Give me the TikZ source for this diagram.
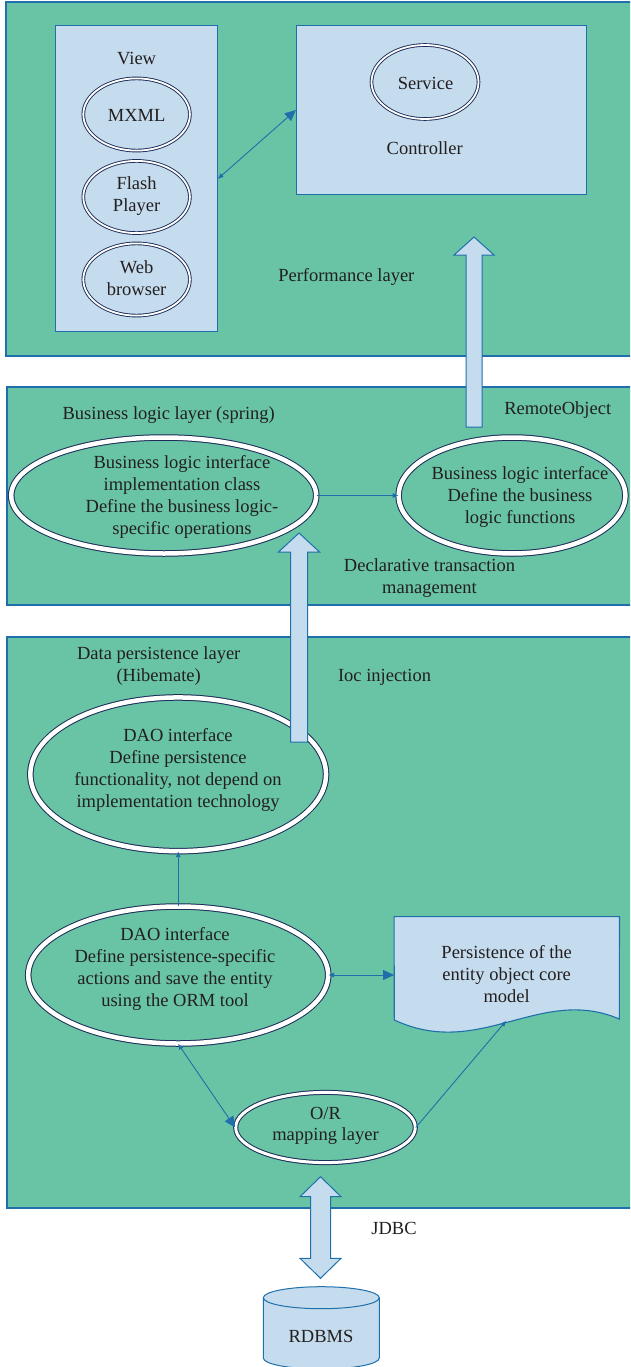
\documentclass[tikz,border=0pt]{standalone}
\usepackage{fontspec}
\setmainfont{Liberation Serif}
\usetikzlibrary{arrows.meta,shapes.geometric}
\definecolor{layer}{HTML}{68C4A4}
\definecolor{paleblue}{HTML}{C5DCEE}
\definecolor{edge}{HTML}{1F6FAA}
\definecolor{navy}{HTML}{1C2B57}
\definecolor{ink}{HTML}{231F20}
\tikzset{
  every node/.style={font=\fontsize{18.5}{21.7}\selectfont, text=ink, inner sep=0pt},
  lbl/.style={align=center},
  layerbox/.style={draw=edge, line width=1.2pt, fill=layer},
  panel/.style={rectangle, draw=edge, line width=1.2pt, fill=paleblue},
  ovalthin/.style={ellipse, draw=navy, line width=0.9pt, double=white, double distance=1.8pt},
  ovalthick/.style={ellipse, draw=navy, line width=1pt, double=white, double distance=4.5pt},
  ovalmid/.style={ellipse, draw=navy, line width=1pt, double=white, double distance=3pt},
  conn/.style={draw=edge, line width=0.9pt},
  fat/.style={draw=edge, fill=paleblue, line width=1pt, line join=miter},
  bigtip/.tip={Triangle[length=11pt,width=10pt]},
  smalltip/.tip={Triangle[length=5.5pt,width=4.5pt]},
}
\begin{document}
\begin{tikzpicture}[x=1pt,y=-1pt]
\useasboundingbox (0,0) rectangle (630,1367);
\clip (0,0) rectangle (630,1367);

% ---------- layer backgrounds ----------
\draw[layerbox] (6,2) rectangle (645,356);
\draw[layerbox] (7,387) rectangle (645,605);
\draw[layerbox] (7,637) rectangle (645,1208);

% ---------- performance layer ----------
\node[panel, minimum width=161.6pt, minimum height=306pt] (view) at (136.6,178.7) {};
\node[panel, minimum width=290pt, minimum height=168.6pt] (ctrl) at (441.5,110) {};
\node (viewlbl) at (136.6,59) {View};
\node[ovalthin, minimum width=106.6pt, minimum height=72.2pt] (mxml) at (136.6,114.5) {};
\node (mxmllbl) at (136.6,115.7) {MXML};
\node[ovalthin, minimum width=106.6pt, minimum height=72.2pt] (flash) at (136.6,197) {};
\node[lbl] (flashlbl) at (136.6,196) {Flash\\Player};
\node[ovalthin, minimum width=106.6pt, minimum height=72.2pt] (web) at (136.6,279.5) {};
\node[lbl] (weblbl) at (136.6,278.5) {Web\\browser};
\node[ovalthin, minimum width=107pt, minimum height=74pt] (service) at (425,82) {};
\node (servicelbl) at (425.5,83) {Service};
\node (ctrllbl) at (424.7,148) {Controller};
\node (perflbl) at (346.3,277) {Performance layer};
\draw[conn, {smalltip}-{bigtip}] (view.east) -- (ctrl.west);

% ---------- business logic layer ----------
\node (buslbl) at (168.7,415) {Business logic layer (spring)};
\node (remotelbl) at (557.7,410) {RemoteObject};
\node[ovalthick, minimum width=305pt, minimum height=116pt] (bl1) at (163.7,495.5) {};
\node[lbl] (bl1lbl) at (182,497) {Business logic interface\\implementation class\\Define the business logic-\\specific operations};
\node[ovalthick, minimum width=226.7pt, minimum height=116pt] (bl2) at (512,495.5) {};
\node[lbl] (bl2lbl) at (520,497) {Business logic interface\\Define the business\\logic functions};
\node[lbl] (decllbl) at (429.5,578) {Declarative transaction\\management};
\draw[conn, -{smalltip}] (bl1.east) -- (bl2.west);

% ---------- data persistence layer ----------
\node[lbl] (datalbl) at (158.7,666) {Data persistence layer\\(Hibemate)};
\node (ioclbl) at (384.5,677) {Ioc injection};
\node[ovalthick, minimum width=295.7pt, minimum height=153.7pt] (dao1) at (178.2,774.3) {};
\node[lbl] (dao1lbl) at (178,770) {DAO interface\\Define persistence\\functionality, not depend on\\implementation technology};
\node[ovalthick, minimum width=300pt, minimum height=137pt] (dao2) at (178.2,975) {};
\node[lbl] (dao2lbl) at (175,969) {DAO interface\\Define persistence-specific\\actions and save the entity\\using the ORM tool};
\node[ovalmid, minimum width=179.6pt, minimum height=70.2pt] (orm) at (325.5,1127.5) {};
\node[lbl] (ormlbl) at (325.5,1126) {O/R\\mapping layer};

% document shape holding the core model
\node[minimum width=225pt, minimum height=103pt] (doc) at (506.8,968.3) {};
\draw[draw=edge, fill=paleblue, line width=1.1pt]
  (doc.north west) -- (doc.north east) -- (619.3,1019)
  .. controls (540,985) and (480,1060) .. (394.3,1020) -- cycle;
\node[lbl] (doclbl) at (506.7,974) {Persistence of the\\entity object core\\model};
\coordinate (docbot) at (506,1021);

\draw[conn, -{smalltip}] (dao2.north) -- (dao1.south);
\draw[conn, {smalltip}-{bigtip}] (dao2.east) -- (doc.west |- dao2.east);
\draw[conn, {smalltip}-{bigtip}] (dao2.south) -- (orm.west);
\draw[conn, -{smalltip}] (orm.east) -- (docbot);

% ---------- hollow block arrows ----------
\draw[fat] (466,427) -- (466,255) -- (454,255) -- (474,237) -- (494,255) -- (482,255) -- (482,427) -- cycle;
\draw[fat] (290.5,742) -- (290.5,552) -- (278.5,552) -- (299,533) -- (319.5,552) -- (307.5,552) -- (307.5,742) -- cycle;
\draw[fat] (310.5,1196.7) -- (300,1196.7) -- (320.5,1176.7) -- (341,1196.7) -- (330.5,1196.7)
  -- (330.5,1258.3) -- (341,1258.3) -- (320.5,1278.3) -- (300,1258.3) -- (310.5,1258.3) -- cycle;
\node (jdbclbl) at (394,1228.3) {JDBC};

% ---------- database ----------
\draw[draw=edge, fill=paleblue, line width=1pt]
  (263.3,1297.7) -- (263.3,1358)
  .. controls (263.3,1364.1) and (289.3,1369) .. (321.3,1369)
  .. controls (353.3,1369) and (379.3,1364.1) .. (379.3,1358)
  -- (379.3,1297.7)
  .. controls (379.3,1291.6) and (353.3,1286.7) .. (321.3,1286.7)
  .. controls (289.3,1286.7) and (263.3,1291.6) .. (263.3,1297.7) -- cycle;
\draw[draw=edge, line width=1pt] (263.3,1297.7)
  .. controls (263.3,1303.8) and (289.3,1308.7) .. (321.3,1308.7)
  .. controls (353.3,1308.7) and (379.3,1303.8) .. (379.3,1297.7);
\node (db) at (321,1336) {RDBMS};
\end{tikzpicture}
\end{document}
